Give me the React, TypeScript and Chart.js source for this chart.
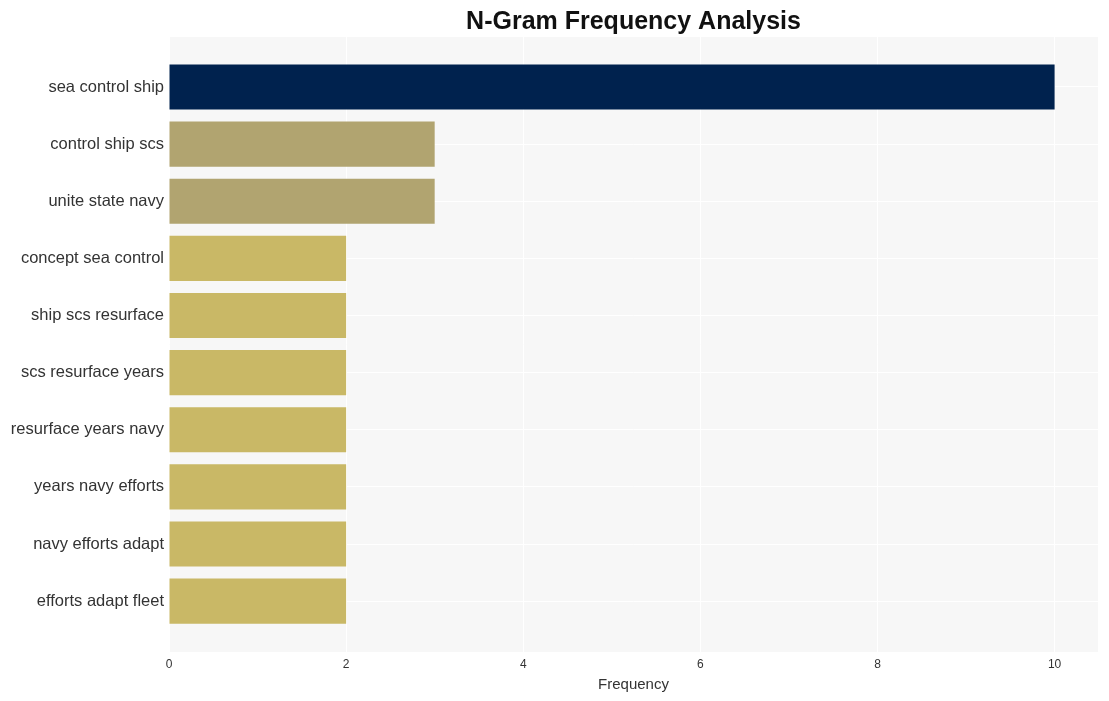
import React, { useEffect, useRef } from "react";
import { Chart, registerables } from "chart.js";

Chart.register(...registerables);

const categories = [
  "sea control ship",
  "control ship scs",
  "unite state navy",
  "concept sea control",
  "ship scs resurface",
  "scs resurface years",
  "resurface years navy",
  "years navy efforts",
  "navy efforts adapt",
  "efforts adapt fleet",
];
const frequencies = [10, 3, 3, 2, 2, 2, 2, 2, 2, 2];
const barColors = [
  "#00224e",
  "#b1a470",
  "#b1a470",
  "#c9b866",
  "#c9b866",
  "#c9b866",
  "#c9b866",
  "#c9b866",
  "#c9b866",
  "#c9b866",
];
const xTicks = [0, 2, 4, 6, 8, 10];

const FONT = "'Liberation Sans', Arial, Helvetica, sans-serif";

const plotBg = {
  id: "plotBg",
  beforeDraw(chart: any) {
    const { ctx, chartArea } = chart;
    ctx.save();
    ctx.fillStyle = "#f7f7f7";
    ctx.fillRect(chartArea.left, chartArea.top, chartArea.right - chartArea.left, chartArea.bottom - chartArea.top);
    ctx.restore();
  },
};

export default function App() {
  const ref = useRef<HTMLCanvasElement | null>(null);
  useEffect(() => {
    document.body.style.margin = "0";
    const points = frequencies.map((v, i) => ({ x: v, y: i }));
    const chart = new Chart(ref.current as HTMLCanvasElement, {
      type: "bar",
      data: {
        datasets: [
          {
            data: points,
            backgroundColor: barColors,
            borderWidth: 0,
            categoryPercentage: 1,
            barPercentage: 0.79,
          },
        ],
      },
      plugins: [plotBg],
      options: {
        indexAxis: "y",
        animation: false,
        responsive: false,
        maintainAspectRatio: false,
        layout: { padding: { left: 0, right: 11, top: 0, bottom: 0 } },
        plugins: {
          legend: { display: false },
          tooltip: { enabled: false },
          title: {
            display: true,
            text: "N-Gram Frequency Analysis",
            fullSize: false,
            color: "#111",
            font: { family: FONT, size: 25, weight: "bold" },
            padding: { top: 7, bottom: 0 },
          },
        },
        scales: {
          x: {
            type: "linear",
            min: 0,
            max: 10.49,
            afterBuildTicks: (axis: any) => {
              axis.ticks = xTicks.map((v) => ({ value: v }));
            },
            afterFit: (axis: any) => {
              axis.height = 49;
            },
            grid: { color: "#ffffff", lineWidth: 1, drawTicks: false },
            border: { display: false },
            ticks: {
              color: "#333",
              font: { family: FONT, size: 12 },
              padding: 5,
            },
            title: {
              display: true,
              text: "Frequency",
              color: "#333",
              font: { family: FONT, size: 15 },
              padding: { top: 2, bottom: 7 },
            },
          },
          y: {
            type: "linear",
            reverse: true,
            offset: false,
            min: -0.875,
            max: categories.length - 1 + 0.89,
            afterBuildTicks: (axis: any) => {
              axis.ticks = categories.map((_, i) => ({ value: i }));
            },
            afterFit: (axis: any) => {
              axis.width = 169;
            },
            grid: { color: "#ffffff", lineWidth: 1, drawTicks: false, offset: false },
            border: { display: false },
            ticks: {
              color: "#333",
              font: { family: FONT, size: 16.5 },
              padding: 5,
              callback: (v: any) => categories[v as number] ?? "",
            },
          },
        },
      },
    } as any);
    return () => chart.destroy();
  }, []);
  return (
    <div style={{ position: "absolute", left: 0, top: 0, width: 1109, height: 701 }}>
      <canvas ref={ref} width={1109} height={701} />
    </div>
  );
}
